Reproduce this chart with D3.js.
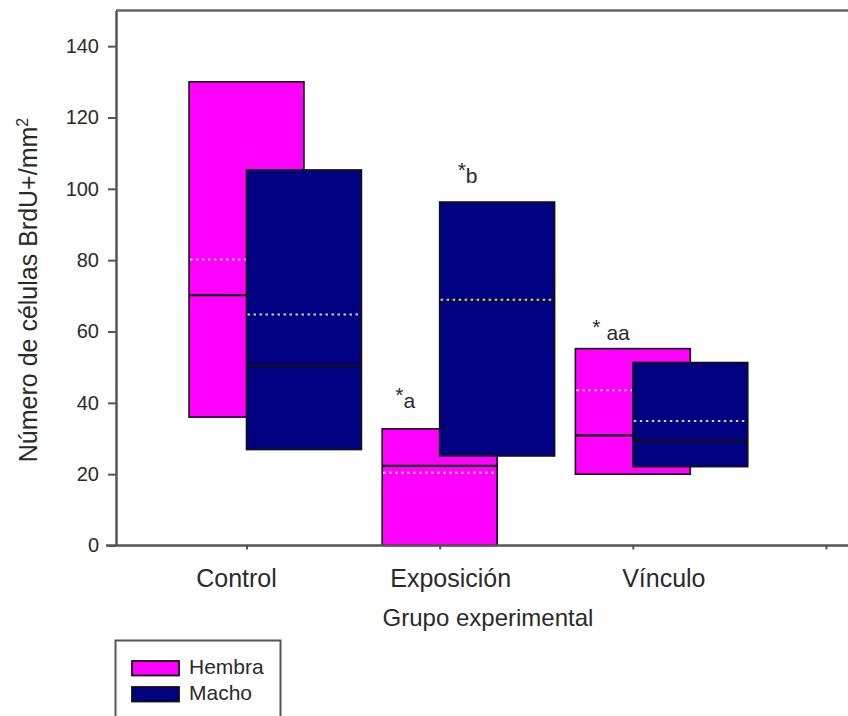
<!DOCTYPE html>
<html>
<head>
<meta charset="utf-8">
<script src="https://cdn.jsdelivr.net/npm/d3@7"></script>
<style>
  html, body { margin: 0; padding: 0; background: #fff; }
  svg { display: block; }
  text { font-family: "Liberation Sans", Arial, sans-serif; fill: #2a2a2a; }
</style>
</head>
<body>
<svg id="chart" width="848" height="716"></svg>
<script>
// Groups and series
const groups = ["Control", "Exposición", "Vínculo"];
const series = ["Hembra", "Macho"];
const seriesColors = ["#ff00ff", "#000080"];

// Box values per series, one entry per group (cells BrdU+/mm²)
const hembraLow    = [36, 0, 20];
const hembraHigh   = [130, 32.7, 55.2];
const hembraMedian = [70.2, 22.3, 30.9];
const hembraMean   = [80.2, 20.4, 43.5];

const machoLow     = [26.9, 25.1, 22.1];
const machoHigh    = [105.3, 96.3, 51.3];
const machoMedian  = [50.3, 68.7, 29.3];
const machoMean    = [64.8, 68.9, 34.9];

const yTicks = [0, 20, 40, 60, 80, 100, 120, 140];

// Significance marks: group index, series index, star text, letter text
const marks = [
  { g: 1, s: 0, star: "*", sub: "a" },
  { g: 1, s: 1, star: "*", sub: "b" },
  { g: 2, s: 0, star: "* ", sub: "aa" }
];

const boxes = [];
groups.forEach((g, i) => {
  boxes.push({ g: i, s: 0, low: hembraLow[i], high: hembraHigh[i], median: hembraMedian[i], mean: hembraMean[i] });
  boxes.push({ g: i, s: 1, low: machoLow[i], high: machoHigh[i], median: machoMedian[i], mean: machoMean[i] });
});

const svg = d3.select("#chart");

const y = d3.scaleLinear().domain([0, 150]).range([545.5, 10.5]);
// category index -> position of the first series' box centre
const x = d3.scaleLinear().domain([0, 3]).range([246.5, 826]);
const boxW = 0.595;          // box width in category units
const seriesShift = boxW / 2; // second series overlaps half a box

const boxX0 = d => x(d.g + d.s * seriesShift - boxW / 2);
const boxX1 = d => x(d.g + d.s * seriesShift + boxW / 2);

// frame: top edge and x baseline
svg.append("line").attr("x1", 116).attr("x2", 848).attr("y1", 10.5).attr("y2", 10.5)
  .attr("stroke", "#666").attr("stroke-width", 2.5);

// boxes
const bg = svg.append("g");
const box = bg.selectAll("g.box").data(boxes).join("g").attr("class", "box");
box.append("rect")
  .attr("x", d => boxX0(d))
  .attr("y", d => y(d.high))
  .attr("width", d => boxX1(d) - boxX0(d))
  .attr("height", d => y(d.low) - y(d.high))
  .attr("fill", d => seriesColors[d.s])
  .attr("stroke", "#111").attr("stroke-width", 1.6);
box.append("line")
  .attr("x1", d => boxX0(d)).attr("x2", d => boxX1(d))
  .attr("y1", d => y(d.median)).attr("y2", d => y(d.median))
  .attr("stroke", "#111").attr("stroke-width", 2.2);
box.append("line")
  .attr("x1", d => boxX0(d) + 1).attr("x2", d => boxX1(d) - 1)
  .attr("y1", d => y(d.mean)).attr("y2", d => y(d.mean))
  .attr("stroke", "#ffffff").attr("stroke-opacity", 0.8)
  .attr("stroke-width", 2).attr("stroke-dasharray", "2.5,3.5");

// y axis
const yAxis = svg.append("g").attr("transform", "translate(116,0)")
  .call(d3.axisLeft(y).tickValues(yTicks).tickSize(8).tickSizeOuter(0).tickPadding(9));
yAxis.select(".domain").attr("stroke", "#555").attr("stroke-width", 2.5);
yAxis.selectAll(".tick line").attr("stroke", "#555").attr("stroke-width", 2);
yAxis.selectAll(".tick text").style("font-size", "20px")
  .style("font-family", "'Liberation Sans', Arial, sans-serif").attr("fill", "#2a2a2a");

// x baseline and ticks
svg.append("line").attr("x1", 106).attr("x2", 848).attr("y1", 545.5).attr("y2", 545.5)
  .attr("stroke", "#555").attr("stroke-width", 2.5);
const xAxis = svg.append("g").attr("transform", "translate(0,545.5)")
  .call(d3.axisBottom(x).tickValues([0, 1, 2, 3]).tickSize(4).tickFormat(""));
xAxis.select(".domain").remove();
xAxis.selectAll(".tick line").attr("stroke", "#555").attr("stroke-width", 2);

// category labels (hand-placed nudges, in pixels)
const labelNudge = [-10, 11, 31];
svg.append("g").selectAll("text").data(groups).join("text")
  .attr("x", (d, i) => x(i) + labelNudge[i])
  .attr("y", 587)
  .attr("text-anchor", "middle")
  .style("font-size", "25px")
  .text(d => d);

// axis titles
svg.append("text")
  .attr("x", 488).attr("y", 626)
  .attr("text-anchor", "middle")
  .style("font-size", "24px")
  .text("Grupo experimental");

const yt = svg.append("text")
  .attr("transform", "translate(37,290) rotate(-90)")
  .attr("text-anchor", "middle")
  .style("font-size", "25px");
yt.append("tspan").text("Número de células BrdU+/mm");
yt.append("tspan").attr("dy", "-0.55em").style("font-size", "16px").text("2");

// significance marks above boxes (nudges in pixels)
const markNudge = [{ dx: 13, dy: -27 }, { dx: 18, dy: -25 }, { dx: 17, dy: -15 }];
const mk = svg.append("g").selectAll("text").data(marks).join("text")
  .attr("x", (d, i) => x(d.g + d.s * seriesShift - boxW / 2) + markNudge[i].dx)
  .attr("y", (d, i) => {
    const v = d.s === 0 ? hembraHigh[d.g] : machoHigh[d.g];
    return y(v) + markNudge[i].dy;
  })
  .style("font-size", "21px");
mk.append("tspan").text(d => d.star);
mk.append("tspan").attr("dy", 6).style("font-size", "21px").text(d => d.sub);

// legend
const lg = svg.append("g");
lg.append("rect").attr("x", 115.5).attr("y", 640.5).attr("width", 165).attr("height", 100)
  .attr("fill", "#fff").attr("stroke", "#555").attr("stroke-width", 2);
const li = lg.selectAll("g.item").data(series).join("g").attr("class", "item")
  .attr("transform", (d, i) => `translate(0,${i * 26})`);
li.append("rect").attr("x", 132).attr("y", 661).attr("width", 47).attr("height", 14.5)
  .attr("fill", (d, i) => seriesColors[i]).attr("stroke", "#111").attr("stroke-width", 1.8);
li.append("text").attr("x", 189).attr("y", 674).style("font-size", "21px").text(d => d);
</script>
</body>
</html>
